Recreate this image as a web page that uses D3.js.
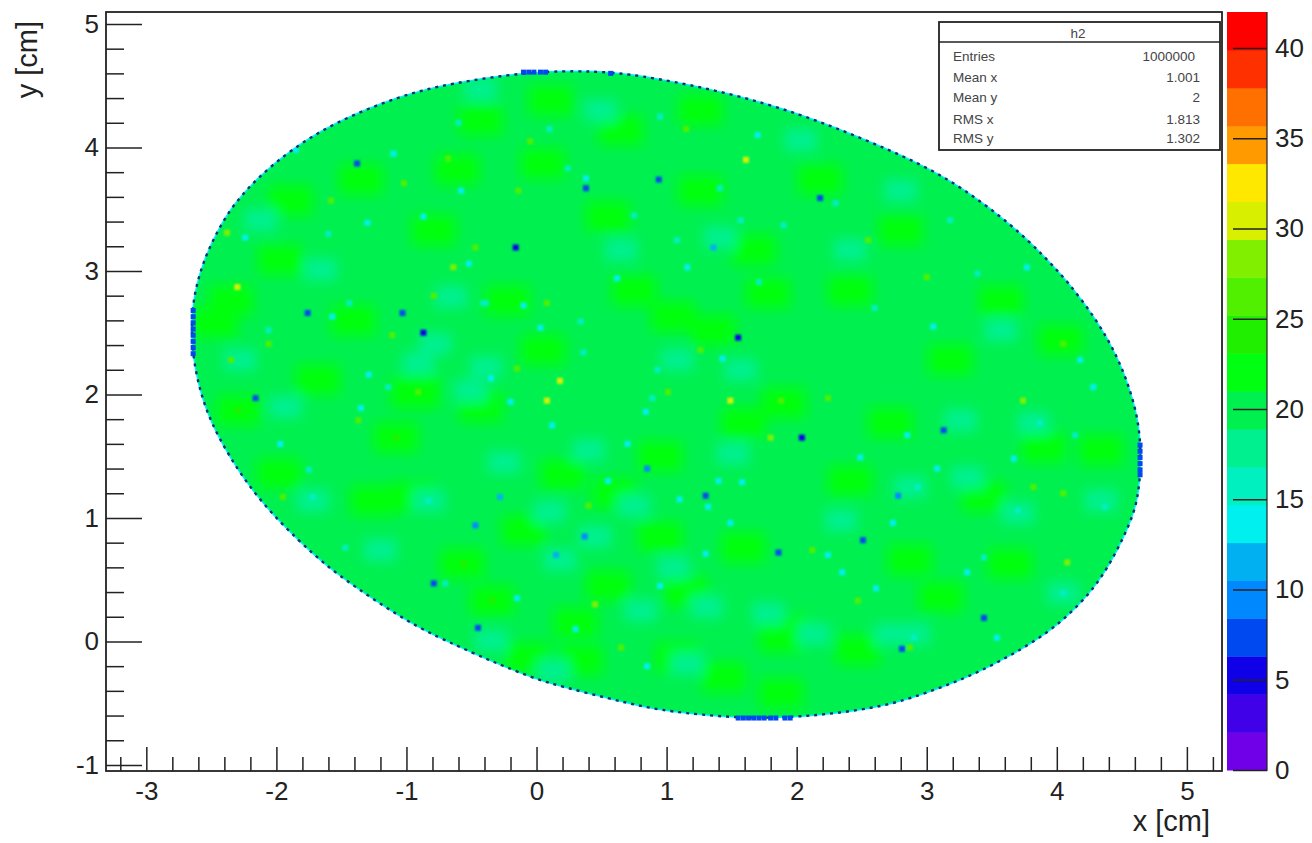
<!DOCTYPE html>
<html>
<head>
<meta charset="utf-8">
<title>h2</title>
<script src="https://cdn.jsdelivr.net/npm/d3@7"></script>
<style>
  html, body { margin: 0; background: #fff; }
  text { font-family: "Liberation Sans", Arial, sans-serif; fill: #222; }
</style>
</head>
<body>
<div id="chart"></div>
<script>
// axis labels
const xMajor = [-3, -2, -1, 0, 1, 2, 3, 4, 5];
const yMajor = [-1, 0, 1, 2, 3, 4, 5];
const zMajor = [0, 5, 10, 15, 20, 25, 30, 35, 40];

// contour colours, low to high
const palette = [
  '#7000e8', '#4000e8', '#1000e8', '#0048f0', '#0088ff', '#00b0f0', '#00f0f0',
  '#00f0c0', '#00f090', '#00f050', '#00ff10', '#20f000', '#50f000', '#80f000',
  '#d8f000', '#ffe800', '#ff9a00', '#ff7000', '#ff3000', '#ff0000'
];

// stats box
const statsNames = ['Entries', 'Mean x', 'Mean y', 'RMS x', 'RMS y'];
const statsValues = ['1000000', '1.001', '2', '1.813', '1.302'];

// edge of the filled area, x and y in cm, read clockwise from the top
const outline = [
  [0.30, 4.62], [0.57, 4.61], [0.88, 4.57], [1.49, 4.44], [2.03, 4.27], [2.49, 4.08],
  [2.95, 3.87], [3.28, 3.67], [3.67, 3.36], [3.90, 3.12], [4.08, 2.92], [4.31, 2.60],
  [4.47, 2.30], [4.57, 2.02], [4.63, 1.77], [4.65, 1.49], [4.63, 1.20], [4.58, 0.98],
  [4.36, 0.52], [4.14, 0.26], [3.92, 0.06], [3.62, -0.13], [3.30, -0.30], [2.86, -0.47],
  [2.59, -0.54], [2.17, -0.60], [1.67, -0.63], [1.11, -0.58], [0.82, -0.53], [0.55, -0.46],
  [0.21, -0.37], [-0.02, -0.30], [-0.25, -0.20], [-0.39, -0.14], [-0.60, -0.04], [-0.91, 0.11],
  [-1.24, 0.33], [-1.54, 0.55], [-1.72, 0.71], [-1.95, 0.94], [-2.18, 1.21], [-2.37, 1.51],
  [-2.50, 1.77], [-2.57, 1.97], [-2.62, 2.18], [-2.65, 2.40], [-2.65, 2.66], [-2.62, 2.87],
  [-2.55, 3.11], [-2.45, 3.33], [-2.33, 3.54], [-2.14, 3.76], [-1.89, 3.98], [-1.56, 4.20],
  [-1.05, 4.42], [-0.66, 4.52], [-0.08, 4.61]
];

// typical bin content inside the area
const baseCount = 20;

// regions that read a little higher (pure green)
const brightPatches = [
  [-0.91, 2.03], [-0.79, 3.33], [0.05, 2.36], [0.75, 2.84], [1.67, 3.17], [1.36, 2.52], [1.90, 1.93],
  [-0.43, 1.90], [0.55, 3.44], [0.05, 3.87], [-0.22, 2.76], [1.05, 2.63], [1.78, 2.82], [-0.61, 3.82],
  [1.26, 3.65], [1.59, 1.77], [1.93, 0.09], [3.11, 0.36], [3.64, 0.63], [3.44, 1.17], [2.72, 1.77],
  [2.41, 1.30], [1.59, 0.76], [2.87, 0.66], [3.90, 1.57], [-2.29, 1.87], [-1.68, 2.12], [-1.08, 1.65],
  [-1.98, 1.36], [-1.26, 1.14], [-0.95, 1.17], [-0.57, 0.63], [-0.34, 0.33], [-1.41, 2.60], [-2.47, 2.58],
  [-0.95, 2.01], [1.08, -0.13], [1.88, 0.03], [0.34, -0.15], [-0.07, -0.13], [1.44, -0.29], [1.88, -0.42],
  [2.47, -0.07], [-1.89, 3.57], [-0.43, 4.22], [0.65, 4.14], [2.18, 3.74], [2.80, 3.33], [3.57, 2.76],
  [4.03, 2.44], [-2.35, 2.76], [-1.97, 3.09], [-1.35, 3.74], [0.11, 4.38], [1.26, 4.30], [2.41, 2.84],
  [3.18, 2.28], [4.34, 1.55], [0.60, 1.20], [0.95, 0.85], [0.20, 1.35], [-0.10, 0.90], [0.55, 0.45],
  [0.95, 1.50], [0.30, 0.15], [1.15, 0.40]
];
const brightCount = 22;

// regions that read a little lower (teal)
const tealPatches = [
  [-0.91, 2.25], [1.08, 2.28], [-0.51, 2.03], [1.57, 2.20], [1.41, 3.27], [-0.66, 2.79], [1.51, 1.52],
  [2.87, 1.25], [2.34, 0.98], [3.82, 1.77], [3.70, 1.04], [3.31, 1.33], [2.90, 0.06], [4.05, 0.39],
  [1.78, 0.23], [1.31, 0.28], [-0.35, 0.01], [0.13, -0.24], [2.13, 0.06], [2.72, 0.06], [1.16, -0.18],
  [-1.93, 1.90], [-0.78, 2.41], [-0.39, 2.22], [-0.83, 1.14], [-1.72, 1.14], [0.49, 4.30], [2.03, 4.06],
  [-0.43, 4.47], [2.80, 3.65], [-1.66, 3.01], [3.57, 2.52], [4.34, 1.14], [0.65, 3.17], [-2.12, 3.41],
  [-2.28, 2.28], [2.41, 3.17], [3.26, 1.79], [0.18, 0.66], [0.80, 0.25], [-1.20, 0.74], [0.40, 1.55],
  [0.75, 1.10], [-0.25, 1.45], [0.10, 1.05], [1.05, 0.60], [0.45, 0.85]
];
const tealCount = 17;

// single bins that stand out, [x, y, content]
const cells = [
  // low, cyan
  [-0.58, 3.65, 14], [0.38, 3.75, 14], [0.24, 3.83, 15], [1.41, 3.67, 15], [0.75, 3.45, 15], [1.90, 3.37, 15],
  [1.57, 3.41, 15], [1.36, 3.19, 11], [-0.41, 2.74, 15], [-0.10, 2.72, 14], [-0.52, 3.06, 14], [0.62, 2.94, 13],
  [1.71, 2.91, 15], [0.34, 2.59, 15], [0.03, 2.54, 14], [0.36, 2.34, 15], [1.43, 2.29, 14], [-0.35, 2.13, 14],
  [0.93, 2.20, 15], [0.89, 1.97, 15], [-0.20, 1.94, 13], [0.12, 1.75, 14], [0.84, 1.86, 14], [-0.87, 3.44, 13],
  [1.16, 3.03, 14], [1.08, 3.25, 15], [2.49, 1.49, 13], [2.85, 1.67, 14], [1.40, 1.30, 13], [1.58, 1.29, 13],
  [1.32, 1.09, 13], [2.74, 0.96, 14], [2.35, 0.56, 14], [3.08, 1.40, 14], [3.87, 1.77, 15], [3.67, 1.48, 14],
  [2.93, 1.25, 15], [2.24, 0.70, 14], [2.90, 0.03, 15], [3.31, 0.56, 13], [4.05, 0.39, 15], [3.54, 0.03, 14],
  [2.61, 0.43, 14], [1.49, 0.96, 14], [1.30, 0.71, 14], [3.44, 0.68, 15], [3.70, 1.06, 15], [-0.28, 1.17, 12],
  [-1.29, 2.16, 14], [-1.35, 1.89, 14], [-1.75, 1.39, 15], [-1.97, 1.60, 14], [-1.44, 2.74, 15], [-2.06, 2.52, 15],
  [-1.57, 2.63, 14], [-0.83, 1.14, 15], [-1.47, 0.76, 15], [-0.70, 0.47, 15], [-1.72, 1.17, 15], [-0.39, 2.74, 15],
  [-1.14, 2.06, 15], [-1.30, 3.39, 14], [-2.24, 3.27, 14], [-1.85, 3.98, 14], [3.18, 3.41, 15], [3.77, 3.03, 14],
  [3.39, 2.98, 15], [4.18, 2.28, 14], [4.28, 2.06, 14], [4.14, 1.67, 15], [4.37, 1.09, 15], [0.55, 1.30, 13],
  [0.15, 0.70, 12], [0.95, 0.45, 13], [-0.15, 0.35, 13], [0.70, 1.60, 14], [1.10, 1.15, 14], [0.30, 0.10, 14],
  [0.85, -0.20, 14], [-0.60, 4.20, 15], [0.10, 4.15, 15], [0.95, 4.25, 15], [1.70, 4.10, 14], [2.30, 3.55, 15],
  [-1.10, 3.95, 14], [-1.60, 3.30, 15], [2.60, 2.70, 15], [3.05, 2.55, 14],
  // high, yellow green
  [1.61, 3.90, 30], [-0.68, 3.91, 27], [-0.14, 3.65, 27], [-0.64, 3.03, 29], [-0.47, 3.19, 27], [-0.79, 2.80, 27],
  [0.08, 2.74, 27], [0.18, 2.11, 30], [-0.15, 2.21, 27], [1.26, 2.36, 27], [1.49, 1.95, 30], [0.08, 1.95, 30],
  [1.01, 2.02, 27], [-0.91, 2.02, 26], [-1.02, 3.71, 26], [1.80, 1.65, 29], [3.74, 1.95, 28], [4.08, 0.64, 29],
  [2.87, -0.05, 27], [2.12, 0.74, 26], [2.47, 0.33, 27], [3.82, 1.25, 26], [1.88, 1.95, 26], [2.24, 1.97, 26],
  [-2.06, 2.41, 26], [-2.35, 2.28, 27], [-1.11, 2.48, 27], [-1.08, 1.65, 25], [-2.29, 1.87, 25], [-0.56, 0.63, 25],
  [-1.95, 1.17, 26], [-0.34, 0.33, 25], [-1.37, 1.79, 27], [-2.30, 2.87, 30], [-1.58, 3.57, 27], [-2.38, 3.31, 28],
  [4.05, 2.41, 26], [4.05, 1.20, 26], [0.45, 0.30, 28], [0.65, -0.05, 26], [0.40, 1.10, 26], [-0.05, 4.05, 26],
  [1.15, 4.15, 26], [2.55, 3.25, 26], [3.00, 2.95, 26],
  // low, dark
  [0.38, 3.67, 7], [-0.16, 3.19, 6], [-0.87, 2.50, 6], [1.55, 2.46, 6], [0.94, 3.74, 8], [2.04, 1.65, 6],
  [2.51, 0.82, 7], [3.44, 0.19, 7], [2.81, -0.06, 7], [2.78, 1.18, 9], [1.86, 0.72, 8], [1.30, 1.18, 8],
  [3.13, 1.71, 8], [-1.76, 2.66, 8], [-1.03, 2.66, 8], [-2.16, 1.97, 8], [-0.47, 0.94, 9], [-0.79, 0.47, 8],
  [-0.45, 0.11, 8], [-1.38, 3.87, 8], [2.18, 3.59, 8], [0.37, 0.85, 9], [0.85, 1.40, 9]
];

// runs of nearly empty bins on the border
const edgeCells = [
  [-2.64, 2.68], [-2.64, 2.63], [-2.64, 2.58], [-2.64, 2.53], [-2.64, 2.48], [-2.64, 2.43], [-2.64, 2.38], [-2.64, 2.33],
  [-0.10, 4.61], [-0.06, 4.61], [-0.02, 4.61], [0.03, 4.61], [0.07, 4.61], [0.57, 4.60],
  [1.55, -0.62], [1.59, -0.62], [1.63, -0.62], [1.67, -0.62], [1.71, -0.62], [1.75, -0.62], [1.80, -0.62], [1.84, -0.62],
  [1.91, -0.62], [1.95, -0.62],
  [4.64, 1.59], [4.64, 1.54], [4.64, 1.49], [4.64, 1.44], [4.64, 1.39], [4.64, 1.35]
];
const edgeCount = 7;

const width = 1312;
const height = 843;
const frame = {left: 106, right: 1222, top: 12, bottom: 771};
const bar = {left: 1227, right: 1267};

const xScale = d3.scaleLinear().domain([-3.31, 5.27]).range([frame.left, frame.right]);
const yScale = d3.scaleLinear().domain([-1.049, 5.097]).range([frame.bottom, frame.top]);
const zScale = d3.scaleLinear().domain([0, 42]).range([frame.bottom - 1, frame.top]);
const colorScale = d3.scaleQuantize().domain([0, 42]).range(palette);

const svg = d3.select('#chart').append('svg')
    .attr('width', width)
    .attr('height', height)
    .style('display', 'block');

const defs = svg.append('defs');
const areaLine = d3.line()
    .x((d) => xScale(d[0]))
    .y((d) => yScale(d[1]))
    .curve(d3.curveBasisClosed);

defs.append('clipPath').attr('id', 'area')
    .append('path').attr('d', areaLine(outline));
defs.append('filter').attr('id', 'soft')
    .append('feGaussianBlur').attr('stdDeviation', 6);
defs.append('filter').attr('id', 'fine')
    .attr('x', '-5%').attr('y', '-5%').attr('width', '110%').attr('height', '110%')
    .append('feGaussianBlur').attr('stdDeviation', 0.9);

// filled area
svg.append('path')
    .attr('d', areaLine(outline))
    .attr('fill', colorScale(baseCount))
    .attr('stroke', colorScale(14))
    .attr('stroke-width', 1.5);

const inside = svg.append('g').attr('clip-path', 'url(#area)');

const patches = inside.append('g').attr('filter', 'url(#soft)');
patches.selectAll('.bright')
    .data(brightPatches)
    .enter()
    .append('rect')
    .attr('class', 'bright')
    .attr('x', (d) => xScale(d[0]) - 22)
    .attr('y', (d) => yScale(d[1]) - 15)
    .attr('width', 44)
    .attr('height', 30)
    .attr('fill', colorScale(brightCount));
patches.selectAll('.teal')
    .data(tealPatches)
    .enter()
    .append('rect')
    .attr('class', 'teal')
    .attr('x', (d) => xScale(d[0]) - 16)
    .attr('y', (d) => yScale(d[1]) - 11)
    .attr('width', 32)
    .attr('height', 22)
    .attr('fill', colorScale(tealCount));

inside.append('g').attr('filter', 'url(#fine)')
    .selectAll('rect')
    .data(cells)
    .enter()
    .append('rect')
    .attr('x', (d) => xScale(d[0]) - 3)
    .attr('y', (d) => yScale(d[1]) - 3)
    .attr('width', 6)
    .attr('height', 6)
    .attr('fill', (d) => colorScale(d[2]));

// dotted rim of low bins
svg.append('path')
    .attr('d', areaLine(outline))
    .attr('fill', 'none')
    .attr('stroke', '#0a3570')
    .attr('stroke-width', 2.4)
    .attr('stroke-dasharray', '3 5');

svg.append('g')
    .selectAll('rect')
    .data(edgeCells)
    .enter()
    .append('rect')
    .attr('x', (d) => xScale(d[0]) - 2.5)
    .attr('y', (d) => yScale(d[1]) - 2.5)
    .attr('width', 5)
    .attr('height', 5)
    .attr('fill', colorScale(edgeCount));

// frame
svg.append('rect')
    .attr('x', frame.left)
    .attr('y', frame.top)
    .attr('width', frame.right - frame.left)
    .attr('height', frame.bottom - frame.top)
    .attr('fill', 'none')
    .attr('stroke', '#222')
    .attr('stroke-width', 1.8);

const styleAxis = (g, fontSize) => {
  g.select('.domain').remove();
  g.selectAll('line').attr('stroke', '#222').attr('stroke-width', 1.5);
  g.selectAll('text').attr('font-size', fontSize).attr('fill', '#222');
};

// x axis
const xMinor = d3.range(-3.2, 5.21, 0.2).filter((v) => Math.abs(v - Math.round(v)) > 0.01);
svg.append('g')
    .attr('transform', 'translate(0,' + frame.bottom + ')')
    .call(d3.axisBottom(xScale).tickValues(xMajor).tickFormat((d) => String(d)).tickSize(-24).tickPadding(11))
    .call(styleAxis, 26);
svg.append('g')
    .attr('transform', 'translate(0,' + frame.bottom + ')')
    .call(d3.axisBottom(xScale).tickValues(xMinor).tickFormat('').tickSize(-14))
    .call(styleAxis, 26);

// y axis
const yMinor = d3.range(-0.8, 5.01, 0.2).filter((v) => Math.abs(v - Math.round(v)) > 0.01);
svg.append('g')
    .attr('transform', 'translate(' + frame.left + ',0)')
    .call(d3.axisLeft(yScale).tickValues(yMajor).tickFormat((d) => String(d)).tickSize(-36).tickPadding(7))
    .call(styleAxis, 26);
svg.append('g')
    .attr('transform', 'translate(' + frame.left + ',0)')
    .call(d3.axisLeft(yScale).tickValues(yMinor).tickFormat('').tickSize(-18))
    .call(styleAxis, 26);

svg.append('text')
    .attr('x', 1210)
    .attr('y', 831)
    .attr('text-anchor', 'end')
    .attr('font-size', 29)
    .text('x [cm]');
svg.append('text')
    .attr('transform', 'translate(37,21) rotate(-90)')
    .attr('text-anchor', 'end')
    .attr('font-size', 29)
    .text('y [cm]');

// colour bar
svg.append('g')
    .selectAll('rect')
    .data(palette)
    .enter()
    .append('rect')
    .attr('x', bar.left)
    .attr('y', (d) => zScale(colorScale.invertExtent(d)[1]))
    .attr('width', bar.right - bar.left)
    .attr('height', (d) => zScale(colorScale.invertExtent(d)[0]) - zScale(colorScale.invertExtent(d)[1]) + 0.5)
    .attr('fill', (d) => d);
svg.append('line')
    .attr('x1', bar.right).attr('x2', bar.right)
    .attr('y1', frame.top).attr('y2', frame.bottom)
    .attr('stroke', '#222')
    .attr('stroke-width', 1.2);
svg.append('g')
    .attr('transform', 'translate(' + bar.right + ',0)')
    .call(d3.axisRight(zScale).tickValues(zMajor).tickSize(-34).tickPadding(8))
    .call(styleAxis, 26);

// stats box
const stats = svg.append('g');
stats.append('rect')
    .attr('x', 939).attr('y', 22)
    .attr('width', 281).attr('height', 128)
    .attr('fill', '#fff')
    .attr('stroke', '#222')
    .attr('stroke-width', 1.8);
stats.append('line')
    .attr('x1', 939).attr('x2', 1220)
    .attr('y1', 42).attr('y2', 42)
    .attr('stroke', '#222')
    .attr('stroke-width', 1.5);
stats.append('text')
    .attr('x', 1078)
    .attr('y', 38)
    .attr('text-anchor', 'middle')
    .attr('font-size', 13.5)
    .style('fill', '#444')
    .text('h2');
const statsRowY = [61, 82, 102, 124, 143];
stats.selectAll('.name')
    .data(statsNames)
    .enter()
    .append('text')
    .attr('class', 'name')
    .attr('x', 953)
    .attr('y', (d, i) => statsRowY[i])
    .attr('font-size', 13.5)
    .style('fill', '#444')
    .text((d) => d);
stats.selectAll('.value')
    .data(statsValues)
    .enter()
    .append('text')
    .attr('class', 'value')
    .attr('x', (d, i) => (i === 0 ? 1195 : 1200))
    .attr('y', (d, i) => statsRowY[i])
    .attr('text-anchor', 'end')
    .attr('font-size', 13.5)
    .style('fill', '#444')
    .text((d) => d);
</script>
</body>
</html>
